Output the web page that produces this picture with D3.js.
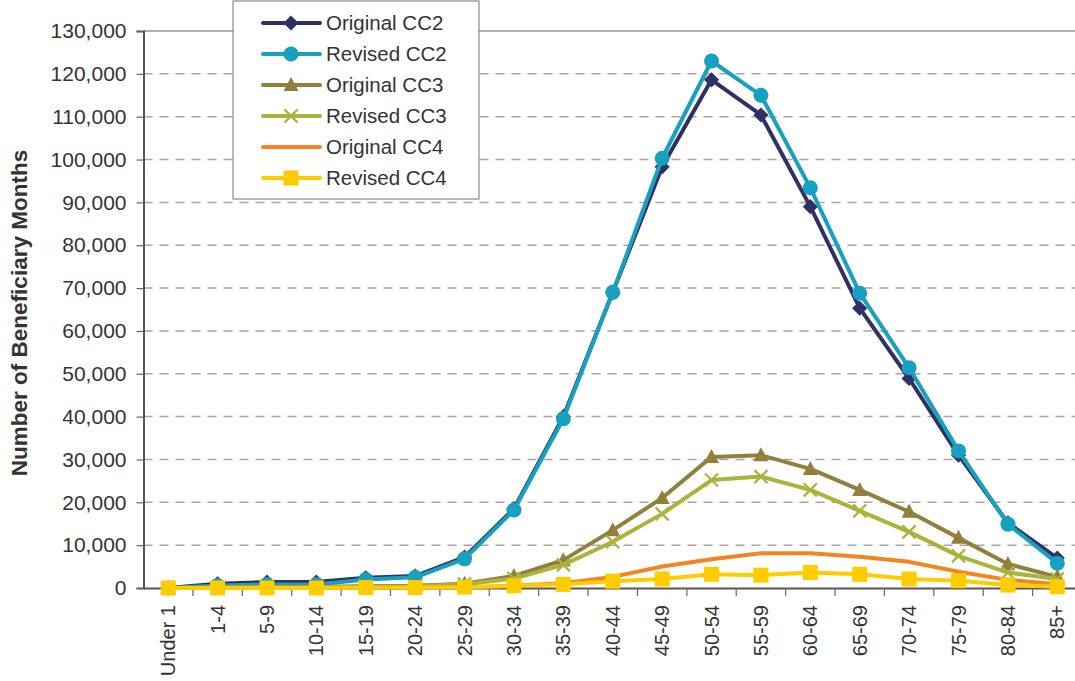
<!DOCTYPE html>
<html>
  <head>
    <title>Beneficiary Months by Age</title>
    <script src="https://cdn.jsdelivr.net/npm/d3@7"></script>
    <style>
      body { margin: 0; background: white; }
      text { font-family: "Liberation Sans", Arial, sans-serif; fill: #333; }
    </style>
  </head>
  <body>
    <script>
      let width = 1075, height = 681;

      // age groups and series values (beneficiary months)
      let ageGroups = ["Under 1", "1-4", "5-9", "10-14", "15-19", "20-24", "25-29", "30-34", "35-39",
                       "40-44", "45-49", "50-54", "55-59", "60-64", "65-69", "70-74", "75-79", "80-84", "85+"];
      let originalCC2 = [0, 1000, 1400, 1400, 2400, 2800, 7200, 18500, 40000, 69000, 98300, 118600, 110400, 89000, 65300, 48900, 31000, 15200, 7000];
      let revisedCC2  = [0, 600, 800, 800, 2000, 2500, 6800, 18200, 39500, 69000, 100300, 123000, 115000, 93400, 68800, 51400, 32000, 14900, 5800];
      let originalCC3 = [0, 200, 300, 300, 400, 500, 1000, 2800, 6500, 13500, 21000, 30600, 31000, 27800, 22900, 17800, 11700, 5600, 2600];
      let revisedCC3  = [0, 100, 200, 200, 300, 400, 900, 2200, 5400, 10800, 17300, 25200, 26000, 22900, 18000, 13100, 7500, 3600, 2100];
      let originalCC4 = [0, 0, 0, 0, 100, 100, 200, 500, 1100, 2600, 5000, 6700, 8100, 8100, 7300, 6100, 3800, 1900, 900];
      let revisedCC4  = [0, 0, 0, 0, 100, 100, 200, 500, 850, 1600, 2100, 3200, 3000, 3600, 3200, 2100, 1700, 700, 300];
      let yTicks = d3.range(0, 130001, 10000);

      let series = [
        {name: "Original CC2", values: originalCC2, color: "#2e3163", marker: "diamond"},
        {name: "Revised CC2",  values: revisedCC2,  color: "#17a0c0", marker: "circle"},
        {name: "Original CC3", values: originalCC3, color: "#927f3c", marker: "triangle"},
        {name: "Revised CC3",  values: revisedCC3,  color: "#a8b43a", marker: "x"},
        {name: "Original CC4", values: originalCC4, color: "#f5841f", marker: "none"},
        {name: "Revised CC4",  values: revisedCC4,  color: "#ffcc00", marker: "square"}
      ];

      let svg = d3.select("body").append("svg")
                  .attr("width", width).attr("height", height);

      let x = d3.scaleBand().domain(ageGroups).range([143.5, 1082]);
      let y = d3.scaleLinear().domain([0, 130000]).range([588, 31]);

      // gridlines
      svg.append("g").selectAll("line").data(yTicks.filter(d => d > 0 && d < 130000)).enter()
         .append("line")
         .attr("x1", 143.5).attr("x2", width)
         .attr("y1", d => y(d)).attr("y2", d => y(d))
         .attr("stroke", "#ada3a3").attr("stroke-width", 1.5)
         .attr("stroke-dasharray", "9,7");
      svg.append("line")
         .attr("x1", 143.5).attr("x2", width)
         .attr("y1", y(130000)).attr("y2", y(130000))
         .attr("stroke", "#9e9292").attr("stroke-width", 1.5);

      // y axis
      let yAxis = svg.append("g").attr("transform", "translate(143.5,0)")
         .call(d3.axisLeft(y).tickValues(yTicks).tickSize(7).tickPadding(10)
                 .tickFormat(d3.format(",")));
      yAxis.select(".domain").attr("stroke", "#5b5252").attr("stroke-width", 2);
      yAxis.selectAll(".tick line").attr("stroke", "#6b6262").attr("stroke-width", 1.2);
      yAxis.selectAll("text").style("font-size", "21px").attr("fill", "#333")
           .style("font-family", "'Liberation Sans', Arial, sans-serif");

      // x axis
      let xAxis = svg.append("g").attr("transform", "translate(0,588)")
         .call(d3.axisBottom(x).tickSize(0).tickPadding(0));
      xAxis.select(".domain").attr("stroke", "#5b5252").attr("stroke-width", 2);
      xAxis.selectAll("text")
           .style("font-size", "20px").attr("fill", "#333")
           .style("font-family", "'Liberation Sans', Arial, sans-serif")
           .attr("text-anchor", "end")
           .attr("transform", "rotate(-90)")
           .attr("x", -17).attr("y", 0).attr("dy", "0.35em");
      svg.append("g").selectAll("line").data(ageGroups.slice(1).concat(["end"])).enter()
         .append("line")
         .attr("x1", (d, i) => x.range()[0] + (i + 1) * x.bandwidth())
         .attr("x2", (d, i) => x.range()[0] + (i + 1) * x.bandwidth())
         .attr("y1", 588).attr("y2", 596)
         .attr("stroke", "#6b6262").attr("stroke-width", 1.2);

      // axis title
      svg.append("text")
         .attr("transform", "translate(27,313) rotate(-90)")
         .attr("text-anchor", "middle")
         .style("font-size", "22.5px").style("font-weight", "bold")
         .attr("fill", "#333")
         .text("Number of Beneficiary Months");

      function drawMarker(g, type, color) {
        if (type == "diamond") {
          g.append("path").attr("d", d3.symbol().type(d3.symbolSquare).size(115)())
           .attr("transform", "rotate(45)").attr("fill", color);
        } else if (type == "circle") {
          g.append("circle").attr("r", 7.5).attr("fill", color);
        } else if (type == "triangle") {
          g.append("path").attr("d", "M0,-8L7.5,6L-7.5,6Z").attr("fill", color);
        } else if (type == "x") {
          g.append("path").attr("d", "M-6.5,-6.5L6.5,6.5M-6.5,6.5L6.5,-6.5")
           .attr("stroke", color).attr("stroke-width", 2.2).attr("fill", "none");
        } else if (type == "square") {
          g.append("rect").attr("x", -7.5).attr("y", -7.5).attr("width", 15).attr("height", 15)
           .attr("fill", color);
        }
      }

      let line = d3.line()
                   .x((d, i) => x(ageGroups[i]) + x.bandwidth() / 2)
                   .y(d => y(d));

      series.forEach(s => {
        let g = svg.append("g");
        g.append("path").attr("d", line(s.values))
         .attr("fill", "none").attr("stroke", s.color).attr("stroke-width", 4)
         .attr("stroke-linejoin", "round");
        g.selectAll("g.pt").data(s.values).enter().append("g")
         .attr("class", "pt")
         .attr("transform", (d, i) => "translate(" + (x(ageGroups[i]) + x.bandwidth() / 2) + "," + y(d) + ")")
         .each(function() { drawMarker(d3.select(this), s.marker, s.color); });
      });

      // legend
      let legend = svg.append("g");
      legend.append("rect").attr("x", 233).attr("y", 1).attr("width", 246).attr("height", 198)
            .attr("fill", "white").attr("stroke", "#8a8a8a").attr("stroke-width", 1.2);
      let rows = legend.selectAll("g.item").data(series).enter().append("g")
            .attr("class", "item")
            .attr("transform", (d, i) => "translate(0," + (23 + i * 31) + ")");
      rows.append("line").attr("x1", 263).attr("x2", 320).attr("y1", 0).attr("y2", 0)
          .attr("stroke", d => d.color).attr("stroke-width", 4).attr("stroke-linecap", "round");
      rows.append("g").attr("transform", "translate(291,0)")
          .each(function(d) { drawMarker(d3.select(this), d.marker, d.color); });
      rows.append("text").attr("x", 326).attr("y", 0).attr("dy", "0.35em")
          .style("font-size", "20.5px").attr("fill", "#333")
          .text(d => d.name);
    </script>
  </body>
</html>
